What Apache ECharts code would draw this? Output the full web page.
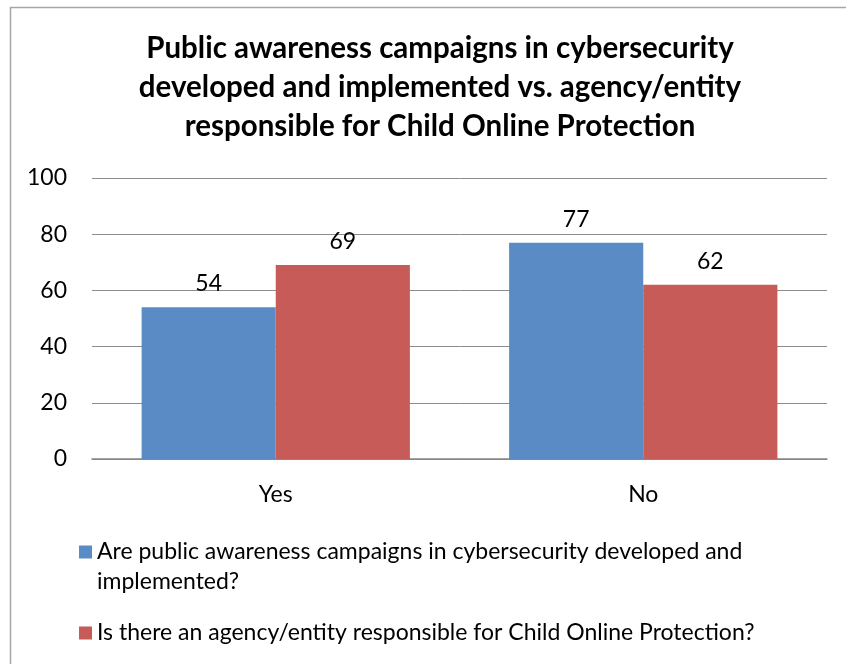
<!DOCTYPE html>
<html>
<head>
<meta charset="utf-8">
<script src="https://cdn.jsdelivr.net/npm/echarts@6/dist/echarts.min.js"></script>
<style>
  html, body { margin: 0; padding: 0; background: #ffffff; }
  #chart { width: 846px; height: 664px; }
</style>
</head>
<body>
<div id="chart"></div>
<script>
// Survey answers (percent of respondents)
const categories = ['Yes', 'No'];
const campaignsValues = [54, 77];
const copAgencyValues = [69, 62];
const seriesNames = [
  'Are public awareness campaigns in cybersecurity developed and implemented?',
  'Is there an agency/entity responsible for Child Online Protection?'
];
const yTicks = { min: 0, max: 100, interval: 20 };
const titleText = 'Public awareness campaigns in cybersecurity\ndeveloped and implemented vs. agency/entity\nresponsible for Child Online Protection';

const FONT = 'Lato, "Open Sans", sans-serif';
const chart = echarts.init(document.getElementById('chart'), null, { renderer: 'canvas' });

const labelStyle = {
  show: true,
  position: 'top',
  distance: 12,
  fontFamily: FONT,
  fontSize: 23,
  color: '#000000'
};

chart.setOption({
  backgroundColor: '#ffffff',
  animation: false,
  graphic: [{
    type: 'rect',
    left: 8, top: 5,
    shape: { width: 860, height: 700 },
    style: { fill: 'none', stroke: '#a6a6a6', lineWidth: 1.5 },
    silent: true
  }],
  title: {
    text: titleText,
    left: 435,
    textAlign: 'center',
    top: 24,
    textStyle: {
      fontFamily: FONT,
      fontSize: 29.5,
      fontWeight: 'bold',
      color: '#000000',
      lineHeight: 39
    }
  },
  grid: { left: 92, right: 19, top: 178, bottom: 205, containLabel: false },
  xAxis: {
    type: 'category',
    data: categories,
    axisLine: { show: true, lineStyle: { color: '#858585', width: 1.5 } },
    axisTick: { show: false },
    axisLabel: { fontFamily: FONT, fontSize: 23, color: '#000000', margin: 24 }
  },
  yAxis: {
    type: 'value',
    min: yTicks.min,
    max: yTicks.max,
    interval: yTicks.interval,
    axisLine: { show: false },
    axisTick: { show: false },
    splitLine: { lineStyle: { color: '#8c8c8c', width: 1 } },
    axisLabel: { fontFamily: FONT, fontSize: 23, color: '#000000', margin: 25 }
  },
  legend: {
    orient: 'vertical',
    left: 74,
    top: 502,
    itemWidth: 13,
    itemHeight: 13,
    itemGap: 21,
    icon: 'rect',
    data: seriesNames,
    // a blank leading line keeps the marker of the wrapped entry beside its first line
    formatter: function (name) {
      return name === seriesNames[0] ? '\n' + name : name;
    },
    textStyle: {
      fontFamily: FONT,
      fontSize: 23,
      color: '#000000',
      width: 705,
      overflow: 'break',
      lineHeight: 30
    }
  },
  series: [
    {
      name: seriesNames[0],
      type: 'bar',
      data: campaignsValues,
      barGap: '0%',
      barCategoryGap: '27%',
      itemStyle: { color: '#5b8bc4' },
      label: labelStyle
    },
    {
      name: seriesNames[1],
      type: 'bar',
      data: copAgencyValues,
      itemStyle: { color: '#c65b58' },
      label: labelStyle
    }
  ]
});
</script>
</body>
</html>
